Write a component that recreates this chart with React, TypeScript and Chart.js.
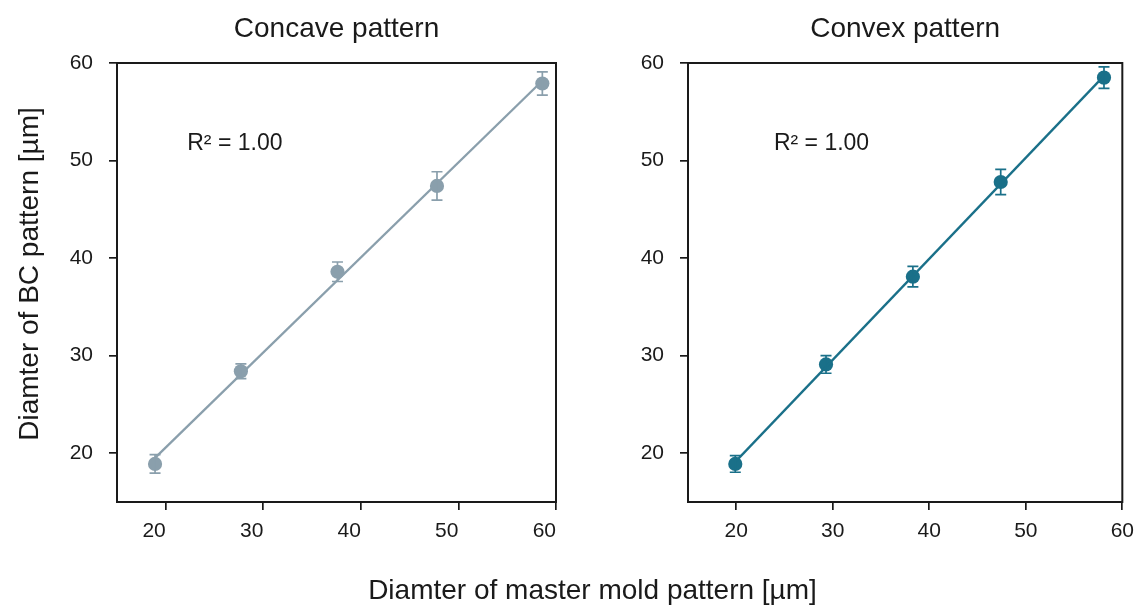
import React, { useEffect, useRef } from "react";
import { Chart, registerables } from "chart.js";

Chart.register(...registerables);

const xTicks = [20, 30, 40, 50, 60];
const yTicks = [20, 30, 40, 50, 60];
const axisMin = 15;
const axisMax = 60;

const concaveMaster = [18.9, 27.7, 37.6, 47.8, 58.6];
const concaveBC = [18.9, 28.4, 38.6, 47.4, 57.9];
const concaveErr = [0.95, 0.75, 1.0, 1.45, 1.2];

const convexMaster = [19.9, 29.3, 38.3, 47.4, 58.1];
const convexBC = [18.9, 29.1, 38.1, 47.8, 58.5];
const convexErr = [0.85, 0.9, 1.05, 1.3, 1.1];

const panelTitles = ["Concave pattern", "Convex pattern"];
const panelColors = ["#8a9fac", "#1a7089"];
const r2Text = "R² = 1.00";
const r2Anchor = [
  [22.2, 51.1],
  [23.9, 51.1],
];
const yAxisLabel = "Diamter of BC pattern [µm]";
const xAxisLabel = "Diamter of master mold pattern [µm]";

const FONT = "'Liberation Sans', Arial, Helvetica, sans-serif";
const INK = "#1a1a1a";
const W = 572;
const H = 608;

function linearFit(xs: number[], ys: number[]) {
  const n = xs.length;
  const mx = xs.reduce((a, b) => a + b, 0) / n;
  const my = ys.reduce((a, b) => a + b, 0) / n;
  let sxy = 0;
  let sxx = 0;
  for (let i = 0; i < n; i++) {
    sxy += (xs[i] - mx) * (ys[i] - my);
    sxx += (xs[i] - mx) * (xs[i] - mx);
  }
  const slope = sxy / sxx;
  return { slope, intercept: my - slope * mx };
}

type PanelProps = {
  xs: number[];
  ys: number[];
  errs: number[];
  color: string;
  title: string;
  r2: number[];
  showYLabel: boolean;
  xTickAlign: "center" | "end";
  left: number;
};

function Panel({ xs, ys, errs, color, title, r2, showYLabel, xTickAlign, left }: PanelProps) {
  const ref = useRef<HTMLCanvasElement | null>(null);

  useEffect(() => {
    if (!ref.current) return;
    const fit = linearFit(xs, ys);
    const x0 = Math.min(...xs);
    const x1 = Math.max(...xs);

    const decor = {
      id: "decor",
      afterDatasetsDraw(chart: any) {
        const { ctx, scales } = chart;
        const sx = scales.x;
        const sy = scales.y;
        ctx.save();
        ctx.strokeStyle = color;
        ctx.lineWidth = 1.7;
        for (let i = 0; i < xs.length; i++) {
          const px = sx.getPixelForValue(xs[i]);
          const pt = sy.getPixelForValue(ys[i] + errs[i]);
          const pb = sy.getPixelForValue(ys[i] - errs[i]);
          ctx.beginPath();
          ctx.moveTo(px, pt);
          ctx.lineTo(px, pb);
          ctx.moveTo(px - 5.5, pt);
          ctx.lineTo(px + 5.5, pt);
          ctx.moveTo(px - 5.5, pb);
          ctx.lineTo(px + 5.5, pb);
          ctx.stroke();
        }
        ctx.restore();
      },
      afterDraw(chart: any) {
        const { ctx, chartArea, scales } = chart;
        ctx.save();
        ctx.strokeStyle = INK;
        ctx.lineWidth = 2;
        ctx.strokeRect(
          chartArea.left,
          chartArea.top,
          chartArea.right - chartArea.left,
          chartArea.bottom - chartArea.top
        );
        ctx.fillStyle = INK;
        ctx.textBaseline = "alphabetic";
        ctx.font = `28px ${FONT}`;
        ctx.textAlign = "center";
        ctx.fillText(title, (chartArea.left + chartArea.right) / 2, 37);
        ctx.font = `23px ${FONT}`;
        ctx.textAlign = "left";
        ctx.fillText(
          r2Text,
          scales.x.getPixelForValue(r2[0]),
          scales.y.getPixelForValue(r2[1])
        );
        if (showYLabel) {
          ctx.font = `28px ${FONT}`;
          ctx.translate(38, 274);
          ctx.rotate(-Math.PI / 2);
          ctx.textAlign = "center";
          ctx.fillText(yAxisLabel, 0, 0);
        }
        ctx.restore();
      },
    };

    const chart = new Chart(ref.current, {
      type: "scatter",
      data: {
        datasets: [
          {
            type: "line",
            data: [
              { x: x0, y: fit.intercept + fit.slope * x0 },
              { x: x1, y: fit.intercept + fit.slope * x1 },
            ],
            borderColor: color,
            borderWidth: 2.3,
            pointRadius: 0,
            fill: false,
          } as any,
          {
            type: "scatter",
            data: xs.map((x, i) => ({ x, y: ys[i] })),
            backgroundColor: color,
            borderWidth: 0,
            pointRadius: 7.1,
          },
        ],
      },
      options: {
        responsive: false,
        animation: false,
        devicePixelRatio: 1,
        layout: { padding: { top: 63, right: 16, left: 0, bottom: 0 } },
        plugins: {
          legend: { display: false },
          tooltip: { enabled: false },
          title: { display: false },
        },
        scales: {
          x: {
            type: "linear",
            min: axisMin,
            max: axisMax,
            afterBuildTicks: (s: any) => {
              s.ticks = xTicks.map((v) => ({ value: v }));
            },
            afterFit: (s: any) => {
              s.height = 106;
            },
            border: { display: false },
            grid: {
              drawOnChartArea: false,
              drawTicks: true,
              tickLength: 8,
              color: INK,
              lineWidth: 1.7,
            },
            ticks: {
              padding: 9,
              color: INK,
              align: xTickAlign,
              font: { size: 21, family: FONT },
              maxRotation: 0,
            },
          },
          y: {
            type: "linear",
            min: axisMin,
            max: axisMax,
            afterBuildTicks: (s: any) => {
              s.ticks = yTicks.map((v) => ({ value: v }));
            },
            afterFit: (s: any) => {
              s.width = 117;
            },
            border: { display: false },
            grid: {
              drawOnChartArea: false,
              drawTicks: true,
              tickLength: 8,
              color: INK,
              lineWidth: 1.7,
            },
            ticks: {
              padding: 16,
              color: INK,
              font: { size: 21, family: FONT },
            },
          },
        },
      },
      plugins: [decor],
    });
    return () => chart.destroy();
  }, []);

  return (
    <canvas
      ref={ref}
      width={W}
      height={H}
      style={{ position: "absolute", left, top: 0, width: W, height: H }}
    />
  );
}

export default function App() {
  return (
    <div
      style={{
        position: "absolute",
        left: 0,
        top: 0,
        width: 1143,
        height: 608,
        background: "#ffffff",
        overflow: "hidden",
      }}
    >
      <Panel
        xs={concaveMaster}
        ys={concaveBC}
        errs={concaveErr}
        color={panelColors[0]}
        title={panelTitles[0]}
        r2={r2Anchor[0]}
        showYLabel={true}
        xTickAlign="end"
        left={0}
      />
      <Panel
        xs={convexMaster}
        ys={convexBC}
        errs={convexErr}
        color={panelColors[1]}
        title={panelTitles[1]}
        r2={r2Anchor[1]}
        showYLabel={false}
        xTickAlign="center"
        left={571}
      />
      <div
        style={{
          position: "absolute",
          left: 20,
          width: 1145,
          top: 576,
          textAlign: "center",
          fontFamily: FONT,
          fontSize: 28,
          lineHeight: "28px",
          color: INK,
          whiteSpace: "nowrap",
        }}
      >
        {xAxisLabel}
      </div>
    </div>
  );
}
